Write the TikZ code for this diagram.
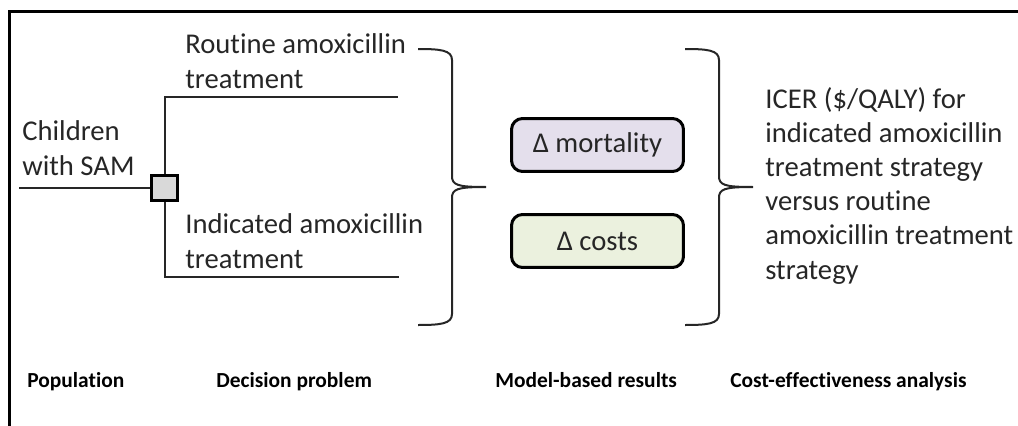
\documentclass[tikz,border=0pt]{standalone}
\usepackage{fontspec}
\setmainfont{Carlito}[Ligatures=NoCommon]
\usepackage{xcolor}
\usepackage{tikz}
\usetikzlibrary{positioning,calc}
\definecolor{inkgray}{HTML}{262626}
\definecolor{nodegray}{HTML}{D9D9D9}
\definecolor{lilacfill}{HTML}{E4DFEC}
\definecolor{greenfill}{HTML}{EBF1DE}
% right curly brace: #1 left x, #2 top y, #3 bottom y
\newcommand{\curlybrace}[3]{%
	\pgfmathsetmacro{\bv}{#1+34}%
	\pgfmathsetmacro{\bt}{#1+68}%
	\pgfmathsetmacro{\bm}{(#2+#3)/2}%
	\draw[bracket] (#1,#2) .. controls (\bv-12,#2) and (\bv,#2+1) .. (\bv,#2+11)
		-- (\bv,\bm-11) .. controls (\bv,\bm-2) and (\bv+5,\bm) .. (\bt,\bm)
		.. controls (\bv+5,\bm) and (\bv,\bm+2) .. (\bv,\bm+11)
		-- (\bv,#3-11) .. controls (\bv,#3-1) and (\bv-12,#3) .. (#1,#3);}

\begin{document}
\begin{tikzpicture}[x=0.02cm, y=-0.02cm, font=\fontsize{16.3}{19.4}\selectfont,
		text=inkgray,
		branch/.style={line width=0.04cm, draw=inkgray},
		bracket/.style={line width=0.04cm, draw=inkgray},
		decision/.style={draw=black, fill=nodegray, line width=0.06cm,
			minimum size=0.52cm, inner sep=0pt},
		resultbox/.style={draw=black, line width=0.06cm, rounded corners=0.22cm,
			minimum width=3.44cm, minimum height=1.06cm, inner sep=0pt},
		textblock/.style={align=left, inner sep=0pt, anchor=base west},
		heading/.style={font=\fontsize{12.2}{14}\selectfont\bfseries, text=black,
			inner sep=0pt, anchor=base west}]
	\useasboundingbox (0,0) rectangle (1018,426);
	% frame (top and left edge only)
	\draw[line width=0.06cm] (9.5,426) -- (9.5,11.5) -- (1018,11.5);
	% decision tree
	\coordinate (root) at (19,188);
	\node[decision] (dec) at (164.5,188) {};
	\coordinate (routine end) at (398,97);
	\coordinate (indicated end) at (399,277);
	\draw[branch] (root) -- (dec);
	\draw[branch] (dec) |- (routine end);
	\draw[branch] (dec) |- (indicated end);
	% base west of a multi-line node = baseline of its last line
	\node[textblock] (pop) at (22,175) {Children\\with SAM};
	\node[textblock] (routine) at (185,88) {Routine amoxicillin\\treatment};
	\node[textblock] (indicated) at (185,268) {Indicated amoxicillin\\treatment};
	% braces
	\curlybrace{418}{49}{325}
	\curlybrace{685}{49}{325}
	% model results
	\node[resultbox, fill=lilacfill] (mort) at (597.5,145) {Δ mortality};
	\node[resultbox, fill=greenfill] (cost) at (597.5,241) {Δ costs};
	% ICER
	\node[textblock] (icer) at (765,279) {ICER (\$/QALY) for\\indicated amoxicillin\\
		treatment strategy\\versus routine\\amoxicillin treatment\\strategy};
	% column headings
	\node[heading] (h pop) at (27,387) {Population};
	\node[heading] (h dec) at (216,387) {Decision problem};
	\node[heading] (h mod) at (495,387) {Model-based results};
	\node[heading] (h cea) at (730,387) {Cost-effectiveness analysis};
\end{tikzpicture}
\end{document}
